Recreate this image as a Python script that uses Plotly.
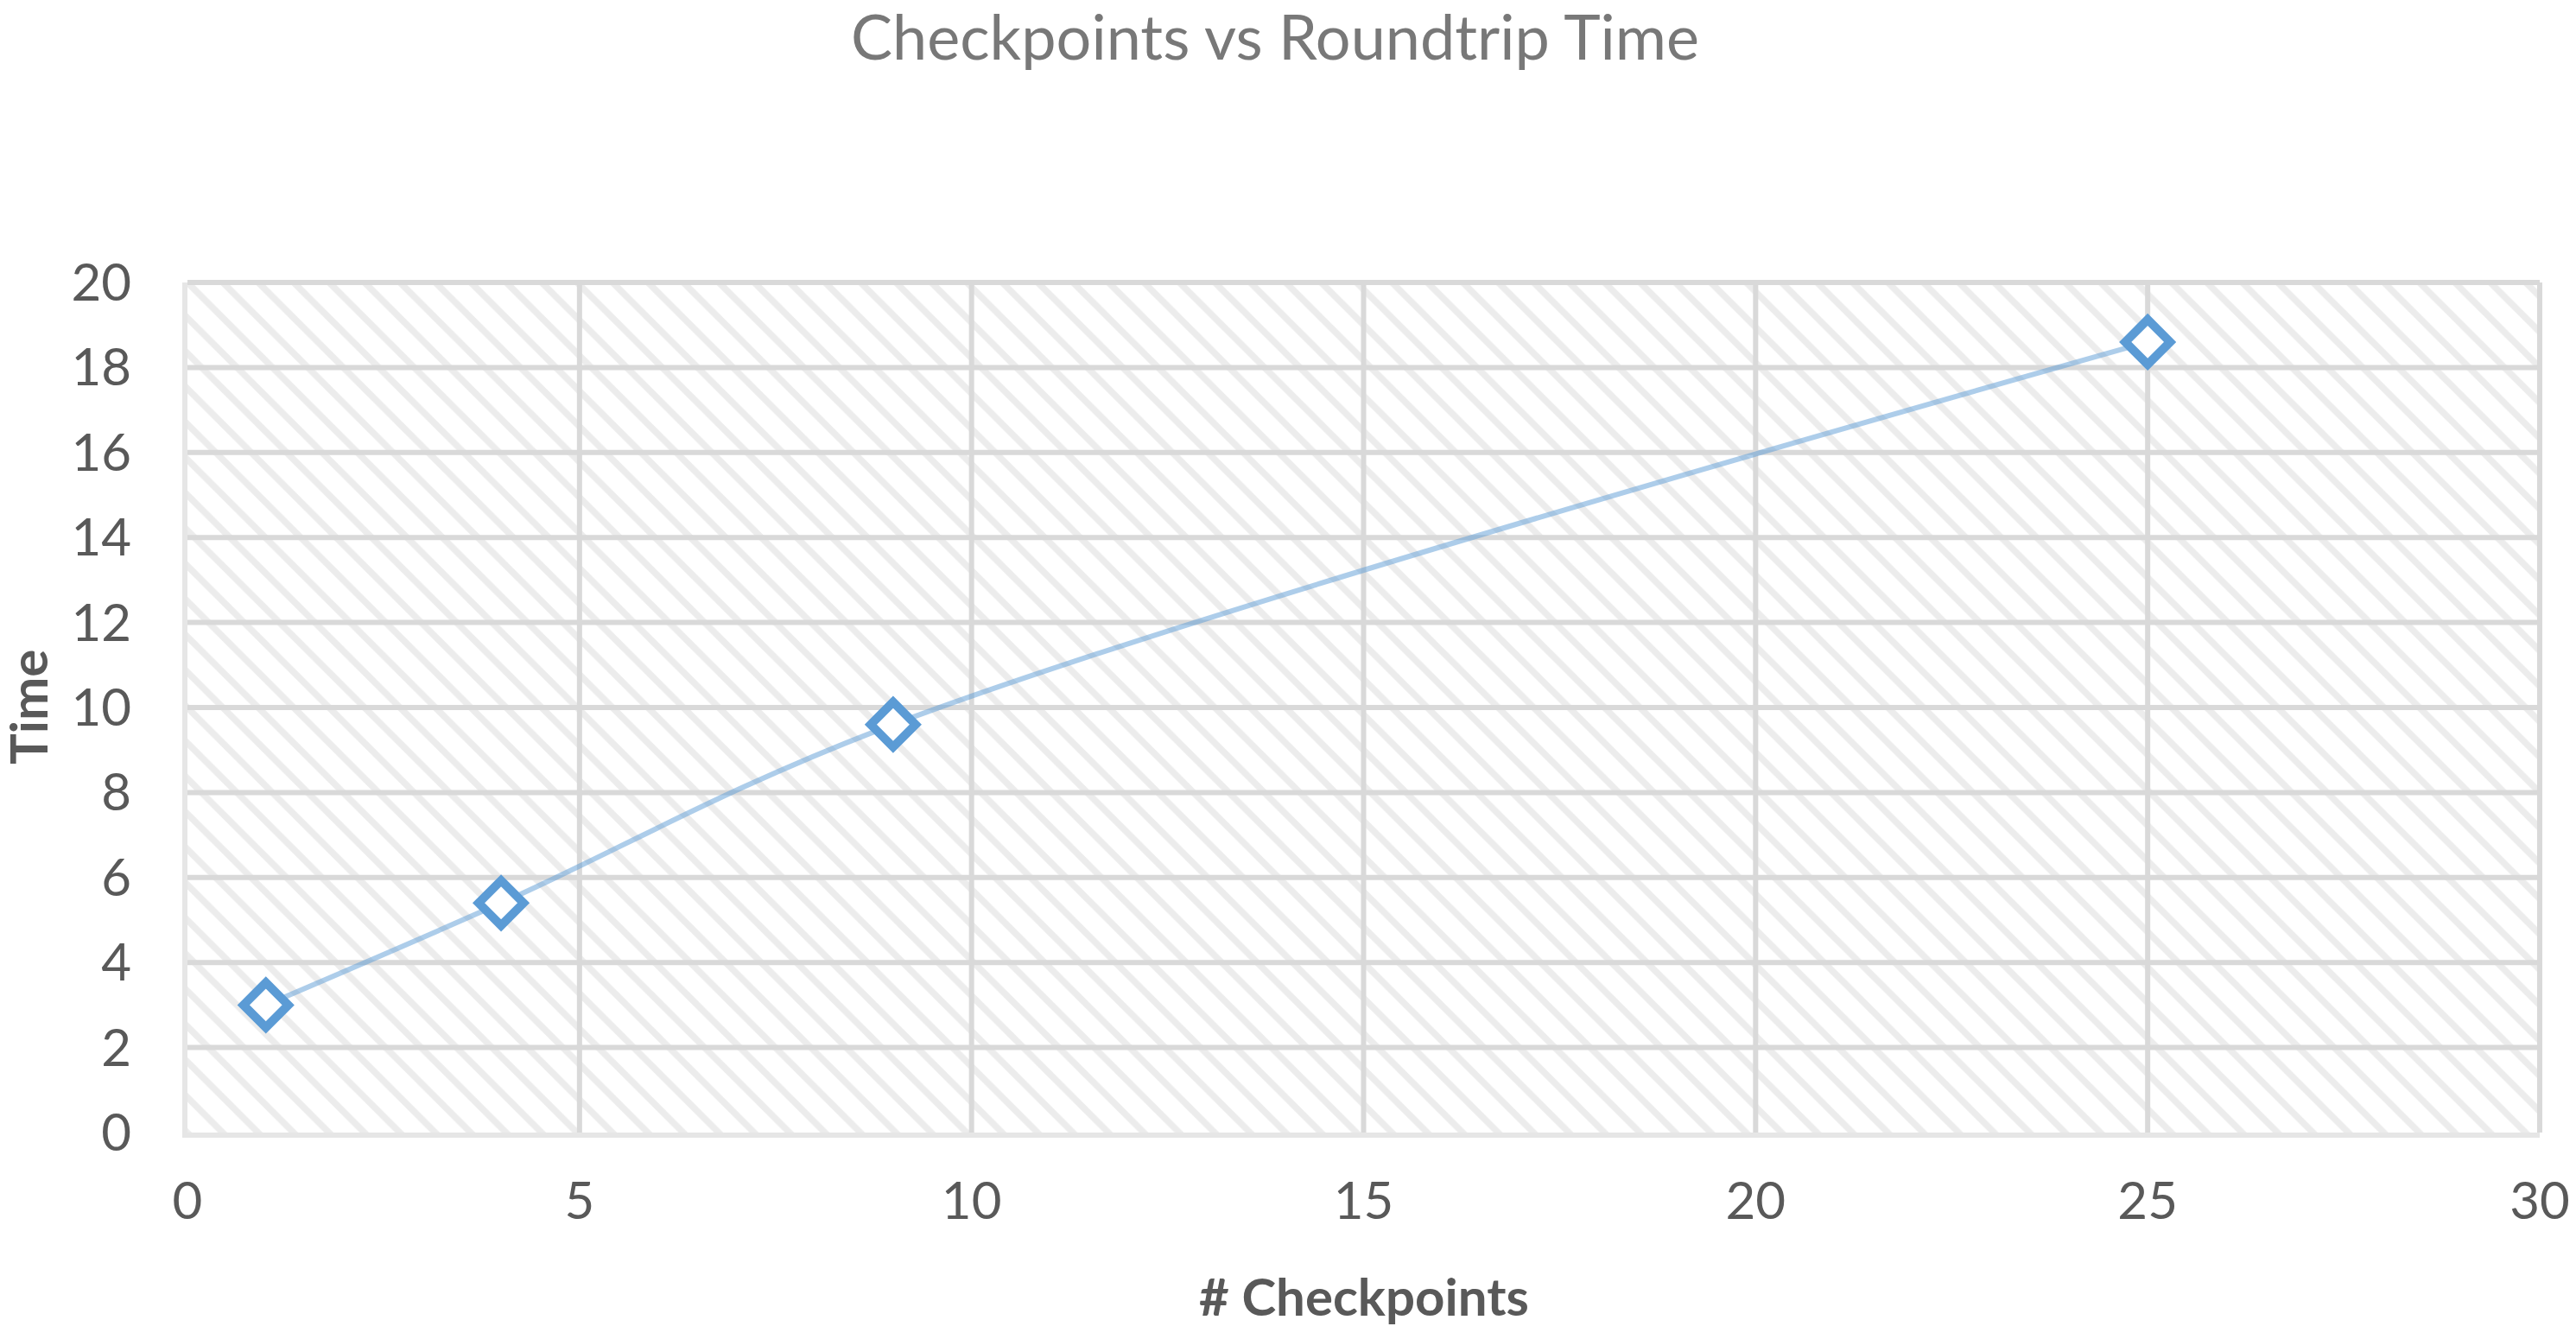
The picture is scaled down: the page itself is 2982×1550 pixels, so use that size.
import plotly.graph_objects as go

# data
checkpoints = [1, 4, 9, 25]
roundtrip_time = [3.0, 5.4, 9.6, 18.6]

x_ticks = [0, 5, 10, 15, 20, 25, 30]
y_ticks = [0, 2, 4, 6, 8, 10, 12, 14, 16, 18, 20]

FONT = "Lato"
GRID = "#d9d9d9"
TEXT = "#595959"

x_lo, x_hi = x_ticks[0], x_ticks[-1]
y_lo, y_hi = y_ticks[0], y_ticks[-1]

fig = go.Figure()

# hatched plot background
fig.add_trace(go.Scatter(
    x=[x_lo, x_hi, x_hi, x_lo, x_lo],
    y=[y_lo, y_lo, y_hi, y_hi, y_lo],
    mode="lines",
    line=dict(width=0),
    fill="toself",
    fillcolor="white",
    fillpattern=dict(shape="\\", fgcolor="#d9d9d9", bgcolor="white",
                     size=29, solidity=0.26),
    hoverinfo="skip",
    showlegend=False,
))

# gridlines on top of the hatch
gx, gy = [], []
for t in x_ticks[1:]:
    gx += [t, t, None]
    gy += [y_lo, y_hi, None]
for t in y_ticks[1:]:
    gx += [x_lo, x_hi, None]
    gy += [t, t, None]
fig.add_trace(go.Scatter(
    x=gx, y=gy, mode="lines",
    line=dict(color=GRID, width=6),
    hoverinfo="skip", showlegend=False,
))

fig.add_trace(go.Scatter(
    x=checkpoints,
    y=roundtrip_time,
    mode="lines+markers",
    line=dict(color="rgba(91,155,213,0.5)", width=6, shape="spline"),
    marker=dict(symbol="diamond", size=40, color="white",
                line=dict(color="#5b9bd5", width=10)),
    showlegend=False,
))

# page body has an 8px margin, so the figure is drawn 8px in from the corner
fig.update_layout(
    width=2974,
    height=1542,
    margin=dict(l=209, r=42, t=319, b=239),
    paper_bgcolor="white",
    plot_bgcolor="white",
    font=dict(family=FONT, color=TEXT),
    title=dict(
        text="Checkpoints vs Roundtrip Time",
        x=(1476 - 8) / 2974, xanchor="center",
        y=1 - 36 / 1542, yanchor="middle",
        font=dict(family=FONT, size=72, color="#787878"),
    ),
    xaxis=dict(
        range=[x_lo, x_hi],
        tickvals=x_ticks,
        showgrid=False, zeroline=False, automargin=False,
        showline=True, linecolor="#e6e6e6", linewidth=6,
        ticks="", ticklabelstandoff=22,
        tickfont=dict(family=FONT, size=60, color=TEXT),
    ),
    yaxis=dict(
        range=[y_lo, y_hi],
        tickvals=y_ticks,
        showgrid=False, zeroline=False, automargin=False,
        showline=True, linecolor="#e6e6e6", linewidth=6,
        ticks="", ticklabelstandoff=47,
        tickfont=dict(family=FONT, size=60, color=TEXT),
    ),
    annotations=[
        dict(text="<b># Checkpoints</b>", xref="paper", yref="paper",
             x=(1579 - 217) / 2723, y=-0.192, xanchor="center", yanchor="middle",
             showarrow=False, font=dict(family=FONT, size=60, color=TEXT)),
        dict(text="<b>Time</b>", xref="paper", yref="paper",
             x=-(217 - 32) / 2723, y=0.5, xanchor="center", yanchor="middle",
             textangle=-90, showarrow=False,
             font=dict(family=FONT, size=60, color=TEXT)),
    ],
    shapes=[
        dict(type="line", xref="paper", yref="paper", x0=0, x1=1, y0=1, y1=1,
             line=dict(color=GRID, width=6), layer="above"),
        dict(type="line", xref="paper", yref="paper", x0=1, x1=1, y0=0, y1=1,
             line=dict(color=GRID, width=6), layer="above"),
    ],
)

fig.write_html("out.html")
